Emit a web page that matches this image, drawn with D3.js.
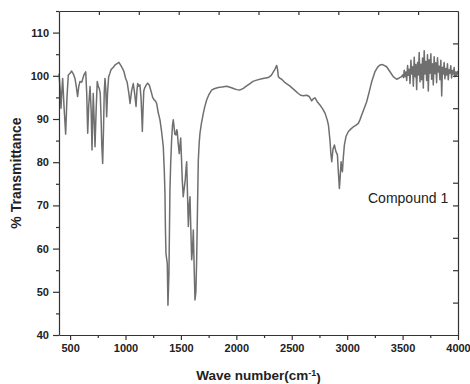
<!DOCTYPE html>
<html>
<head>
<meta charset="utf-8">
<script src="https://cdn.jsdelivr.net/npm/d3@7"></script>
<style>
	body { margin: 0; background: #fff; }
	svg { display: block; font-family: "Liberation Sans", Arial, sans-serif; }
	.spectrum { fill: none; stroke: #6f6f6f; stroke-width: 1.5; stroke-linejoin: round; }
	.axis path, .axis line { stroke: #333; stroke-width: 1.2; }
	.axis text { font-size: 11px; font-weight: bold; fill: #222; }
</style>
</head>
<body>
<svg id="ir-chart" width="470" height="384"></svg>
<script>
var wavenumbers = [
	400, 410, 418, 425, 433, 445, 460, 472, 484, 500, 514, 530, 544, 556, 568, 578, 589, 605, 625, 641,
	650, 659, 668, 680, 690, 698, 704, 709, 717, 725, 735, 745, 755, 763, 772, 780, 786, 794, 802, 808,
	815, 822, 830, 838, 848, 858, 869, 890, 910, 941, 960, 975, 986, 1000, 1015, 1030, 1041, 1055, 1070, 1082,
	1095, 1103, 1110, 1120, 1130, 1140, 1148, 1152, 1158, 1165, 1172, 1185, 1200, 1215, 1230, 1245, 1259, 1270, 1281, 1295,
	1311, 1326, 1341, 1350, 1356, 1360, 1365, 1372, 1377, 1383, 1392, 1401, 1408, 1416, 1424, 1431, 1437, 1445, 1455, 1462,
	1467, 1475, 1485, 1492, 1498, 1505, 1512, 1521, 1530, 1539, 1546, 1552, 1560, 1567, 1575, 1582, 1590, 1597, 1605, 1612,
	1620, 1627, 1635, 1642, 1650, 1657, 1665, 1672, 1685, 1702, 1715, 1732, 1750, 1777, 1800, 1837, 1870, 1913, 1950, 1980,
	2003, 2030, 2063, 2090, 2123, 2150, 2183, 2230, 2288, 2315, 2334, 2350, 2364, 2372, 2379, 2395, 2409, 2440, 2484, 2520,
	2559, 2580, 2604, 2635, 2658, 2680, 2695, 2710, 2730, 2756, 2780, 2801, 2820, 2831, 2845, 2853, 2861, 2872, 2885, 2898,
	2912, 2920, 2930, 2938, 2945, 2951, 2957, 2965, 2975, 2990, 3011, 3030, 3056, 3080, 3101, 3115, 3131, 3150, 3176, 3200,
	3221, 3250, 3275, 3296, 3320, 3356, 3385, 3416, 3446, 3470, 3491,
	3500, 3508, 3515, 3522, 3530, 3537, 3545, 3552, 3560, 3567, 3575, 3582, 3590, 3597, 3605, 3612, 3620, 3627, 3635, 3642,
	3650, 3657, 3665, 3672, 3680, 3687, 3695, 3702, 3710, 3717, 3725, 3732, 3740, 3747, 3755, 3762, 3770, 3777, 3785, 3792,
	3800, 3807, 3815, 3822, 3830, 3837, 3845, 3853, 3860, 3867, 3875, 3882, 3890, 3897, 3905, 3912, 3920, 3927, 3935, 3942,
	3950, 3957, 3965, 3972, 3980, 3987, 3995, 4000
];

var transmittance = [
	100.5, 97, 92.5, 96, 99.4, 93, 86.5, 95, 100.2, 100.6, 101.1, 100.4, 99.4, 97.5, 95.2, 97.5, 98.7, 98.5, 100.2, 100.9,
	96, 86.7, 93, 97.5, 92, 82.8, 90, 95.9, 90, 83.6, 92, 98.7, 97.5, 97.1, 96, 90, 84, 79.7, 88, 96,
	99.4, 97, 90.5, 96, 99.8, 100.5, 101.4, 102, 102.6, 103.1, 102.3, 101.6, 101, 99.5, 98.5, 96, 93.6, 96.5, 98.2, 96,
	92.9, 96.5, 98.2, 97.6, 97.9, 95, 90, 87.1, 92, 96.5, 97.1, 97.8, 98.3, 97.8, 96.5, 95, 94.4, 94.2, 93.6, 91.5,
	89.8, 87, 83.6, 78, 72.8, 65, 58.9, 57.5, 56.6, 46.9, 54.3, 73.6, 80, 85.1, 88.5, 89.8, 88.5, 86.5, 86.3, 87.5,
	87.1, 84.5, 82, 84, 85.6, 81, 76, 72, 74, 75.9, 78.5, 80.1, 72, 65.1, 70, 72, 64, 57.4, 60, 64.3,
	55, 48.1, 50, 57.4, 70, 80.5, 84.5, 86.7, 89, 91.3, 92.8, 94.4, 95.5, 96.7, 97, 97.3, 97.4, 97.6, 97.3, 97,
	96.8, 96.7, 97.1, 97.6, 98.2, 98.7, 99, 99.3, 99.6, 100.1, 100.9, 101.6, 102.4, 101.5, 99.8, 99.4, 99.2, 98.4, 97.6, 96.8,
	95.9, 95.5, 95.4, 95.5, 95.2, 94.2, 94.7, 94.9, 94, 93.2, 92.3, 91.3, 89.8, 88.6, 85, 82, 80.1, 83, 84, 82.5,
	81.7, 78, 73.9, 77, 80.1, 78.5, 77.8, 81, 84, 86, 87.1, 87.6, 88.2, 88.6, 89, 89.8, 90.9, 92.2, 94, 96.4,
	98.6, 100.9, 102, 102.5, 102.6, 102.1, 101, 99.8, 99.2, 99.5, 99.8,
	100.2, 99.6, 101.3, 99.8, 100.9, 98.9, 102.4, 100.1, 101.5, 98.2, 103.6, 100.4, 102.1, 97.6, 104.3, 99.8, 102.6, 96.8, 103.1, 100.2,
	105.4, 98.6, 102.7, 99.1, 104.1, 97.2, 105.8, 100.4, 103.3, 98.9, 104.9, 96.5, 103.7, 100.6, 105.1, 99.2, 102.8, 97.9, 104.4, 100.5,
	103, 98.4, 104.2, 100.9, 102.2, 99.1, 103.6, 95.3, 102, 100.4, 103.1, 99.3, 101.7, 100.2, 102.8, 99.1, 101.4, 100.6, 102.3, 99.5,
	101.2, 100.4, 101.9, 99.8, 100.9, 100.1, 101, 100.3
];

var xTicks = [500, 1000, 1500, 2000, 2500, 3000, 3500, 4000];
var xMinorTicks = [750, 1250, 1750, 2250, 2750, 3250, 3750];
var yTicks = [40, 50, 60, 70, 80, 90, 100, 110];
var yMinorTicks = [45, 55, 65, 75, 85, 95, 105, 115];
// top/right frame ticks, as fractions of the frame
var topTicks = [0.1, 0.2, 0.3, 0.4, 0.5, 0.6, 0.7, 0.8, 0.9];
var rightTicks = [0.1, 0.2, 0.3, 0.4, 0.47, 0.6, 0.7, 0.8, 0.9];

var margin = {left : 59, right : 12, top : 11, bottom : 49};

var svg = d3.select('#ir-chart'),
	width = +svg.attr('width') - margin.left - margin.right,
	height = +svg.attr('height') - margin.top - margin.bottom;

var x = d3.scaleLinear()
	.domain([400, 4000])
	.range([0, width]);

var y = d3.scaleLinear()
	.domain([40, 115])
	.range([height, 0]);

var frac = d3.scaleLinear().domain([0, 1]);

var mainG = svg.append('g')
	.attr('transform', `translate(${margin.left},${margin.top})`);

//spectrum
var points = wavenumbers.map((w, i) => ({w : w, t : transmittance[i]}));

var line = d3.line()
	.x(d => x(d.w))
	.y(d => y(d.t));

mainG.append('path')
	.datum(points)
	.attr('class', 'spectrum')
	.attr('d', line);

//axes
mainG.append('g')
	.attr('class', 'axis')
	.attr('transform', `translate(0,${height})`)
	.call(d3.axisBottom(x).tickValues(xMinorTicks).tickSize(3).tickFormat(''))
	.select('.domain').remove();

mainG.append('g')
	.attr('class', 'axis')
	.attr('transform', `translate(0,${height})`)
	.call(d3.axisBottom(x).tickValues(xTicks).tickSize(5).tickSizeOuter(0).tickPadding(4).tickFormat(d3.format('d')));

mainG.append('g')
	.attr('class', 'axis')
	.call(d3.axisLeft(y).tickValues(yMinorTicks).tickSize(3).tickFormat(''))
	.select('.domain').remove();

mainG.append('g')
	.attr('class', 'axis')
	.call(d3.axisLeft(y).tickValues(yTicks).tickSize(6).tickSizeOuter(0).tickPadding(4));

mainG.append('g')
	.attr('class', 'axis')
	.call(d3.axisTop(frac.copy().range([0, width])).tickValues(topTicks).tickSize(-4).tickSizeOuter(0).tickFormat(''));

mainG.append('g')
	.attr('class', 'axis')
	.attr('transform', `translate(${width},0)`)
	.call(d3.axisRight(frac.copy().range([height, 0])).tickValues(rightTicks).tickSize(-5).tickSizeOuter(0).tickFormat(''));

//labels
mainG.append('text')
	.attr('x', width - 90)
	.attr('y', y(70.5))
	.style('font-size', '14px')
	.style('fill', '#222')
	.text('Compound 1');

var xTitle = svg.append('text')
	.attr('x', margin.left + width / 2)
	.attr('y', 380)
	.attr('text-anchor', 'middle')
	.style('font-size', '13.5px')
	.style('font-weight', 'bold')
	.style('fill', '#222')
	.text('Wave number(cm');

xTitle.append('tspan')
	.attr('dy', '-0.45em')
	.style('font-size', '9px')
	.text('-1');

xTitle.append('tspan')
	.attr('dy', '0.45em')
	.text(')');

svg.append('text')
	.attr('transform', `translate(21,${margin.top + height / 2}) rotate(-90)`)
	.attr('text-anchor', 'middle')
	.style('font-size', '14px')
	.style('font-weight', 'bold')
	.style('fill', '#222')
	.text('% Transmittance');
</script>
</body>
</html>
